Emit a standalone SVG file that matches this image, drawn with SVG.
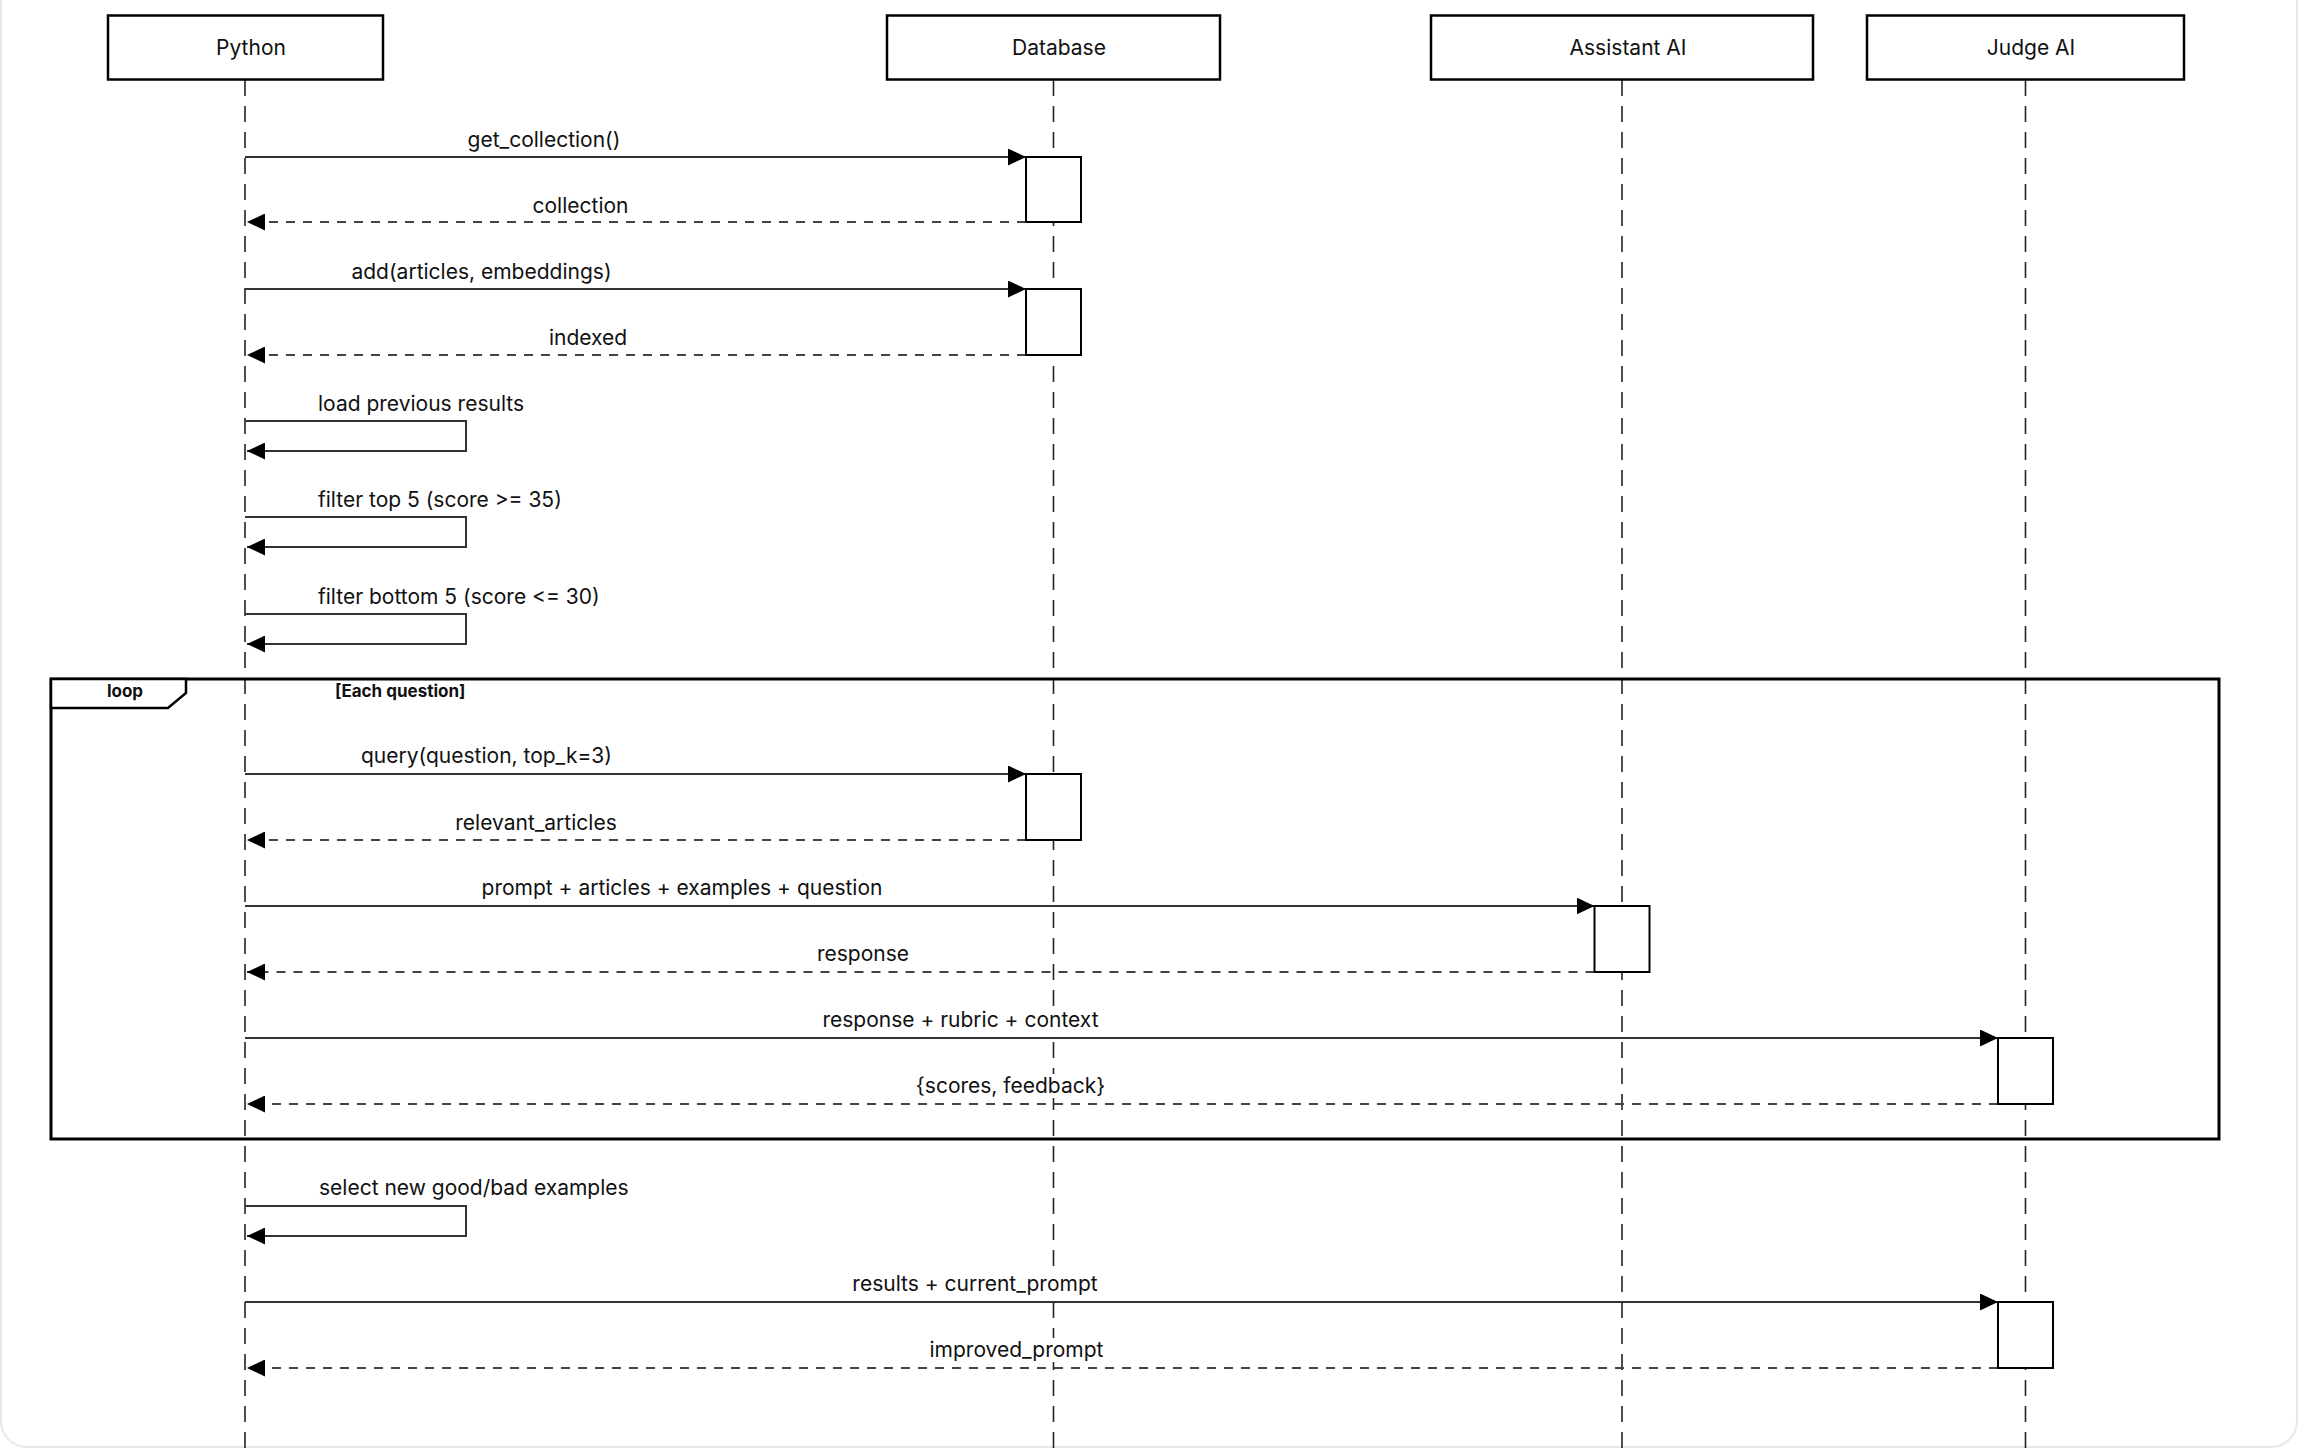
<svg xmlns="http://www.w3.org/2000/svg" width="2298" height="1448" viewBox="0 0 2298 1448">
<style>
.bg{fill:#fff}
.frame-edge{fill:none;stroke:#e8e8e8;stroke-width:2}
.actor{fill:#fff;stroke:#000;stroke-width:2.5}
.actor-label{font-family:Inter,"Liberation Sans",sans-serif;font-size:21px;fill:#111;text-anchor:middle}
.life{stroke:#222;stroke-width:1.6;stroke-dasharray:16 10;fill:none}
.msg{stroke:#333;stroke-width:2;fill:none}
.ret{stroke:#444;stroke-width:2;fill:none;stroke-dasharray:9 8}
.act{fill:#fff;stroke:#000;stroke-width:2}
.lbl-bg{fill:#fff}
.lbl,.lbl-s{font-family:Inter,"Liberation Sans",sans-serif;font-size:21px;fill:#111;stroke:#fff;stroke-width:4;stroke-linejoin:round;paint-order:stroke}
.lbl{text-anchor:middle}
.lbl-s{text-anchor:start}
.loop{fill:none;stroke:#000;stroke-width:3}
.loop-tab{fill:#fff;stroke:#000;stroke-width:2.5}
.loop-txt{font-family:Inter,"Liberation Sans",sans-serif;font-size:17px;font-weight:700;fill:#111}
</style>
<defs>
<marker id="ah" markerUnits="userSpaceOnUse" markerWidth="18" markerHeight="17" refX="18" refY="8.5" orient="auto" viewBox="0 0 18 17">
<path d="M0,0 L18,8.5 L0,17 Z" fill="#000"/>
</marker>
</defs>
<rect class="bg" x="0" y="0" width="2298" height="1448"/>
<rect class="frame-edge" x="1" y="-60" width="2296" height="1507" rx="26"/>

<g id="lifelines">
<line class="life" x1="245" y1="80" x2="245" y2="1448"/>
<line class="life" x1="1053.5" y1="80" x2="1053.5" y2="1448"/>
<line class="life" x1="1622" y1="80" x2="1622" y2="1448"/>
<line class="life" x1="2025.5" y1="80" x2="2025.5" y2="1448"/>
</g>

<g id="participant-python">
<rect class="actor" x="108" y="15.5" width="275" height="64"/>
<text class="actor-label" x="251" y="55">Python</text>
</g>
<g id="participant-database">
<rect class="actor" x="887" y="15.5" width="333" height="64"/>
<text class="actor-label" x="1059" y="55">Database</text>
</g>
<g id="participant-assistant">
<rect class="actor" x="1431" y="15.5" width="382" height="64"/>
<text class="actor-label" x="1628" y="55">Assistant AI</text>
</g>
<g id="participant-judge">
<rect class="actor" x="1867" y="15.5" width="317" height="64"/>
<text class="actor-label" x="2031" y="55">Judge AI</text>
</g>

<g id="loop-frame">
<rect class="loop" x="51" y="679" width="2168" height="460"/>
<path class="loop-tab" d="M51,679 H186 V693 L168,708 H51 Z"/>
<text class="loop-txt" x="125" y="697" text-anchor="middle">loop</text>
<text class="loop-txt" x="335" y="697">[Each question]</text>
</g>

<g id="connectors">
<line class="msg" x1="245" y1="157" x2="1026" y2="157" marker-end="url(#ah)"/>
<line class="ret" x1="1026" y1="222" x2="247" y2="222" marker-end="url(#ah)"/>
<line class="msg" x1="245" y1="289" x2="1026" y2="289" marker-end="url(#ah)"/>
<line class="ret" x1="1026" y1="355" x2="247" y2="355" marker-end="url(#ah)"/>
<polyline class="msg" points="245,421 466,421 466,451 247,451" marker-end="url(#ah)"/>
<polyline class="msg" points="245,517 466,517 466,547 247,547" marker-end="url(#ah)"/>
<polyline class="msg" points="245,614 466,614 466,644 247,644" marker-end="url(#ah)"/>
<line class="msg" x1="245" y1="774" x2="1026" y2="774" marker-end="url(#ah)"/>
<line class="ret" x1="1026" y1="840" x2="247" y2="840" marker-end="url(#ah)"/>
<line class="msg" x1="245" y1="906" x2="1594.5" y2="906" marker-end="url(#ah)"/>
<line class="ret" x1="1594.5" y1="972" x2="247" y2="972" marker-end="url(#ah)"/>
<line class="msg" x1="245" y1="1038" x2="1998" y2="1038" marker-end="url(#ah)"/>
<line class="ret" x1="1998" y1="1104" x2="247" y2="1104" marker-end="url(#ah)"/>
<polyline class="msg" points="245,1206 466,1206 466,1236 247,1236" marker-end="url(#ah)"/>
<line class="msg" x1="245" y1="1302" x2="1998" y2="1302" marker-end="url(#ah)"/>
<line class="ret" x1="1998" y1="1368" x2="247" y2="1368" marker-end="url(#ah)"/>
</g>

<g id="activations">
<rect class="act" x="1026" y="157" width="55" height="65"/>
<rect class="act" x="1026" y="289" width="55" height="66"/>
<rect class="act" x="1026" y="774" width="55" height="66"/>
<rect class="act" x="1594.5" y="906" width="55" height="66"/>
<rect class="act" x="1998" y="1038" width="55" height="66"/>
<rect class="act" x="1998" y="1302" width="55" height="66"/>
</g>

<g id="labels">
<rect class="lbl-bg" x="1040" y="1008" width="30" height="24"/>
<rect class="lbl-bg" x="1040" y="1074" width="30" height="24"/>
<rect class="lbl-bg" x="1040" y="1272" width="30" height="24"/>
<rect class="lbl-bg" x="1040" y="1338" width="30" height="24"/>
<text class="lbl" x="544" y="147">get_collection()</text>
<text class="lbl" x="580.5" y="213">collection</text>
<text class="lbl" x="481.5" y="279">add(articles, embeddings)</text>
<text class="lbl" x="588" y="345">indexed</text>
<text class="lbl-s" x="318" y="411">load previous results</text>
<text class="lbl-s" x="318" y="507">filter top 5 (score &gt;= 35)</text>
<text class="lbl-s" x="318" y="604">filter bottom 5 (score &lt;= 30)</text>
<text class="lbl" x="486.5" y="763">query(question, top_k=3)</text>
<text class="lbl" x="536" y="830">relevant_articles</text>
<text class="lbl" x="682" y="895">prompt + articles + examples + question</text>
<text class="lbl" x="863" y="961">response</text>
<text class="lbl" x="960.5" y="1027">response + rubric + context</text>
<text class="lbl" x="1010.5" y="1093">{scores, feedback}</text>
<text class="lbl-s" x="319" y="1195">select new good/bad examples</text>
<text class="lbl" x="975" y="1291">results + current_prompt</text>
<text class="lbl" x="1016.5" y="1357">improved_prompt</text>
</g>
</svg>
